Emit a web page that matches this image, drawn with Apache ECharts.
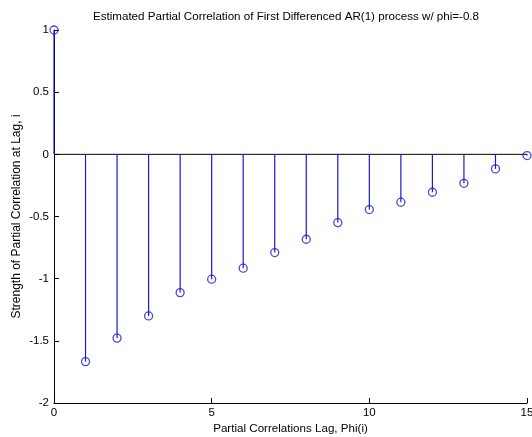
<!DOCTYPE html>
<html>
<head>
<meta charset="utf-8">
<script src="https://cdn.jsdelivr.net/npm/echarts@6/dist/echarts.min.js"></script>
<style>
html,body{margin:0;padding:0;background:#fff;}
#chart{width:532px;height:437px;}
</style>
</head>
<body>
<div id="chart"></div>
<script>
var lags = [0,1,2,3,4,5,6,7,8,9,10,11,12,13,14,15];
var pacf = [1, -1.667, -1.478, -1.30, -1.112, -1.004, -0.916, -0.79, -0.683, -0.549, -0.444, -0.385, -0.305, -0.233, -0.117, -0.01];
var baseline = [[0,0],[15,0]];
var titleText = 'Estimated Partial Correlation of First Differenced AR(1) process w/ phi=-0.8';
var xLabel = 'Partial Correlations Lag, Phi(i)';
var yLabel = 'Strength of Partial Correlation at Lag, i';

var pts = lags.map(function(l,i){return [l,pacf[i]];});
var font = 'Liberation Sans, Arial, Helvetica, sans-serif';
var stemColor = '#1a1ad0';
var chart = echarts.init(document.getElementById('chart'));
chart.setOption({
  animation:false,
  backgroundColor:'#fff',
  title:{text:titleText,left:281,top:6,textAlign:'center',
    textStyle:{fontFamily:font,fontSize:11.6,fontWeight:'normal',color:'#000'}},
  grid:{left:54,right:5,top:30,bottom:34,containLabel:false,outerBoundsMode:'none'},
  xAxis:{type:'value',min:0,max:15,interval:5,
    name:xLabel,nameLocation:'middle',nameGap:20,nameMoveOverlap:false,
    nameTextStyle:{fontFamily:font,fontSize:11.6,color:'#000'},
    axisLine:{onZero:false,lineStyle:{color:'#000',width:1}},
    axisTick:{inside:true,length:5,lineStyle:{color:'#000'}},
    axisLabel:{fontFamily:font,fontSize:11.5,color:'#000',margin:4},
    splitLine:{show:false}},
  yAxis:{type:'value',min:-2,max:1,interval:0.5,
    name:yLabel,nameLocation:'middle',nameGap:31,nameRotate:90,nameMoveOverlap:false,
    nameTextStyle:{fontFamily:font,fontSize:12,color:'#000'},
    axisLine:{onZero:false,lineStyle:{color:'#000',width:1}},
    axisTick:{inside:true,length:5,lineStyle:{color:'#000'}},
    axisLabel:{fontFamily:font,fontSize:11.5,color:'#000',margin:5},
    splitLine:{show:false}},
  series:[
    {type:'line',data:baseline,symbol:'none',silent:true,
      lineStyle:{color:'#000',width:1},z:1},
    {type:'custom',data:pts,z:2,silent:true,
      renderItem:function(params,api){
        var p0 = api.coord([api.value(0),0]);
        var p1 = api.coord([api.value(0),api.value(1)]);
        return {type:'line',shape:{x1:p0[0],y1:p0[1],x2:p1[0],y2:p1[1]},
          style:{stroke:stemColor,lineWidth:1.2}};
      }},
    {type:'scatter',data:pts,symbol:'circle',symbolSize:8,z:3,silent:true,
      itemStyle:{color:'rgba(0,0,0,0)',borderColor:stemColor,borderWidth:1.3}}
  ]
});
</script>
</body>
</html>
